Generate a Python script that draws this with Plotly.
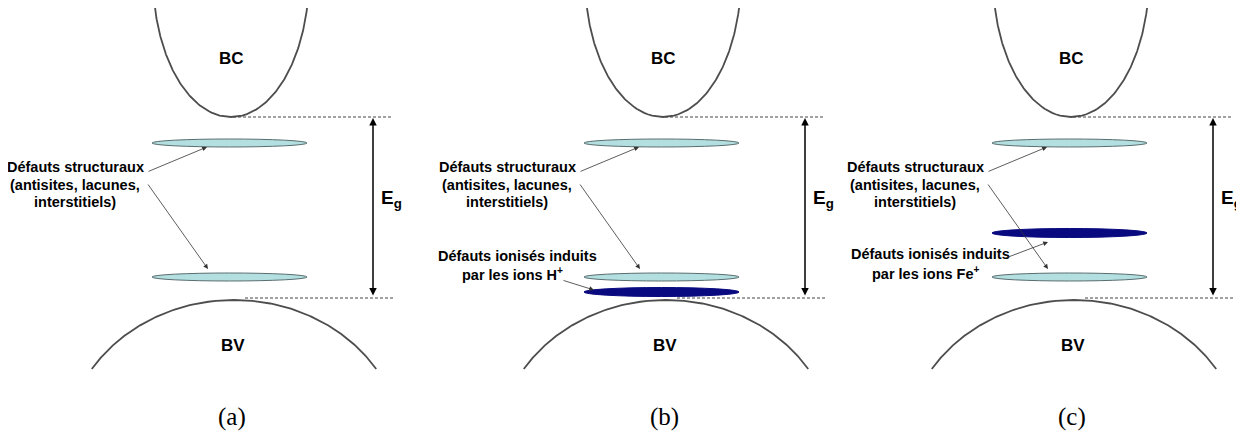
import numpy as np
import plotly.graph_objects as go

# ---- diagram data (pixel-like coordinate system, y downward) ----
panel_labels = ["(a)", "(b)", "(c)"]
panel_offsets = [0, 432, 840]
bc_top = [0, 8, 8]                     # where conduction band curve starts
struct_levels = [143, 277]             # structural defect levels (y)
ion_levels = [None, 292, 233]          # ionized defect level (y) per panel
ion_lines = [None,
             ["Défauts ionisés induits", "par les ions H<sup>+</sup>"],
             ["Défauts ionisés induits", "par les ions Fe<sup>+</sup>"]]
ion_line_pos = [None, [(517, 256), (512, 274)], [(930, 254), (926, 273)]]
ion_arrows = [None, ((130, 280), (162, 290)), ((163, 259), (208, 242))]
struct_lines = ["Défauts structuraux", "(antisites, lacunes,", "interstitiels)"]
struct_line_y = [167, 184.5, 202]
struct_arrows = [((147, 172), (207, 147)), ((147, 183), (208, 269))]
cb_min, vb_max = 117, 298

LINE = "#4d4d4d"
LIGHT = "#b3dfe0"
DARK = "#0a0a80"
SANS = "Liberation Sans"

# page body has an 8px margin: shift the canvas so data coords == page pixels
PAGE_MARGIN = 8

fig = go.Figure()
shapes, annotations = [], []

for i, off in enumerate(panel_offsets):
    # conduction band (lower half of an ellipse)
    cx, a, b = 231 + off, 78, 140
    cy = cb_min - b
    y = np.linspace(bc_top[i], cb_min, 80)
    hw = a * np.sqrt(np.clip(1 - ((y - cy) / b) ** 2, 0, None))
    xs = np.concatenate([cx - hw, (cx + hw)[::-1]])
    ys = np.concatenate([y, y[::-1]])
    fig.add_trace(go.Scatter(x=xs, y=ys, mode="lines",
                             line=dict(color=LINE, width=1.8),
                             hoverinfo="skip", showlegend=False, cliponaxis=False))
    # valence band (upper half of an ellipse)
    vx, va, vb = 234 + off, 169, 150
    vcy = 300 + vb
    yy = np.linspace(300, 369, 80)
    vhw = va * np.sqrt(np.clip(1 - ((yy - vcy) / vb) ** 2, 0, None))
    xs = np.concatenate([(vx - vhw)[::-1], vx + vhw])
    ys = np.concatenate([yy[::-1], yy])
    fig.add_trace(go.Scatter(x=xs, y=ys, mode="lines",
                             line=dict(color=LINE, width=1.8),
                             hoverinfo="skip", showlegend=False))

    # dashed reference lines
    shapes.append(dict(type="line", x0=233 + off, x1=391 + off, y0=cb_min, y1=cb_min,
                       line=dict(color="#444444", width=1, dash="3px,2px")))
    shapes.append(dict(type="line", x0=245 + off, x1=393 + off, y0=vb_max, y1=vb_max,
                       line=dict(color="#444444", width=1, dash="3px,2px")))

    # structural defect levels
    for ly in struct_levels:
        shapes.append(dict(type="circle", x0=152 + off, x1=307 + off, y0=ly - 4, y1=ly + 4,
                           fillcolor=LIGHT, line=dict(color="#5a6e70", width=1)))
    # ionized defect level
    if ion_levels[i] is not None:
        ly = ion_levels[i]
        shapes.append(dict(type="circle", x0=152 + off, x1=307 + off, y0=ly - 4.5, y1=ly + 4.5,
                           fillcolor=DARK, line=dict(color=DARK, width=1)))

    # Eg double arrow
    annotations.append(dict(x=373 + off, y=cb_min + 1, ax=373 + off, ay=vb_max - 1,
                            xref="x", yref="y", axref="x", ayref="y", text="",
                            showarrow=True, arrowhead=2, startarrowhead=2,
                            arrowside="end+start", arrowsize=1, arrowwidth=1.5,
                            arrowcolor="black"))
    annotations.append(dict(x=391 + off, y=199, xref="x", yref="y",
                            text="<b>E<sub>g</sub></b>", showarrow=False,
                            font=dict(family=SANS, size=19, color="black")))

    # band labels
    annotations.append(dict(x=231 + off, y=58, xref="x", yref="y", text="<b>BC</b>",
                            showarrow=False, font=dict(family=SANS, size=17, color="black")))
    annotations.append(dict(x=233 + off, y=345, xref="x", yref="y", text="<b>BV</b>",
                            showarrow=False, font=dict(family=SANS, size=17, color="black")))

    # structural text + arrows
    for txt, ty in zip(struct_lines, struct_line_y):
        annotations.append(dict(x=75 + off, y=ty, xref="x", yref="y",
                                text="<b>" + txt + "</b>", showarrow=False,
                                font=dict(family=SANS, size=14.5, color="black")))
    for (sx, sy), (ex, ey) in struct_arrows:
        annotations.append(dict(x=ex + off, y=ey, ax=sx + off, ay=sy,
                                xref="x", yref="y", axref="x", ayref="y", text="",
                                showarrow=True, arrowhead=2, arrowsize=1.2,
                                arrowwidth=0.8, arrowcolor="#333333"))

    # ionized text + arrow
    if ion_lines[i] is not None:
        for txt, (tx, ty) in zip(ion_lines[i], ion_line_pos[i]):
            annotations.append(dict(x=tx, y=ty, xref="x", yref="y",
                                    text="<b>" + txt + "</b>", showarrow=False,
                                    font=dict(family=SANS, size=14.5, color="black")))
        (sx, sy), (ex, ey) = ion_arrows[i]
        annotations.append(dict(x=ex + off, y=ey, ax=sx + off, ay=sy,
                                xref="x", yref="y", axref="x", ayref="y", text="",
                                showarrow=True, arrowhead=2, arrowsize=1.2,
                                arrowwidth=0.8, arrowcolor="#333333"))

    # panel label
    annotations.append(dict(x=232 + off, y=417, xref="x", yref="y", text=panel_labels[i],
                            showarrow=False,
                            font=dict(family="Liberation Serif", size=25, color="black")))

W, H = 1244, 434
fig.update_layout(
    width=W - PAGE_MARGIN, height=H - PAGE_MARGIN,
    margin=dict(l=0, r=0, t=0, b=0),
    paper_bgcolor="white", plot_bgcolor="white",
    xaxis=dict(range=[PAGE_MARGIN, W], visible=False, fixedrange=True),
    yaxis=dict(range=[H, PAGE_MARGIN], visible=False, fixedrange=True),
    shapes=shapes, annotations=annotations,
)
fig.write_html("out.html")
